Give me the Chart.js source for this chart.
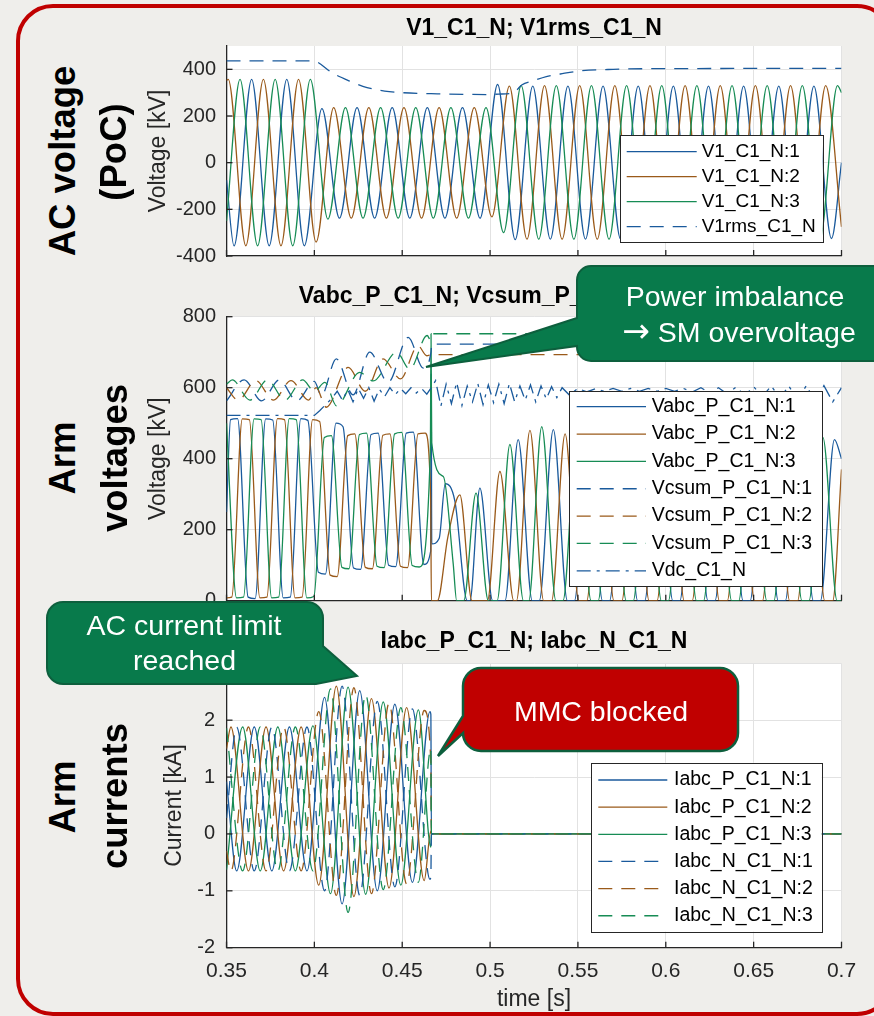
<!DOCTYPE html>
<html>
<head>
<meta charset="utf-8">
<script src="https://cdn.jsdelivr.net/npm/chart.js@4.4.0/dist/chart.umd.min.js"></script>
<style>
  body { margin: 0; background: #efeeeb; }
  #wrap { position: relative; width: 874px; height: 1016px; overflow: hidden; background: #efeeeb;
          font-family: "Liberation Sans", Arial, sans-serif; }
  #frame { position: absolute; left: 16px; top: 4px; width: 878px; height: 1012px; box-sizing: border-box;
           border: 4.5px solid #c00000; border-radius: 37px; }
  canvas { position: absolute; }
  .big { position: absolute; font-weight: bold; font-size: 36.5px; line-height: 1; color: #000;
         white-space: nowrap; transform: translate(-50%, -50%) rotate(-90deg); }
  #mask { position: absolute; left: 130px; top: 263px; width: 96px; height: 8px; background: #efeeeb; }
  svg { position: absolute; left: 0; top: 0; }
</style>
</head>
<body>
<div id="wrap">
  <div id="frame"></div>
  <canvas id="c1" width="744" height="279" style="left:130px;top:0px"></canvas>
  <div id="mask"></div>
  <canvas id="c2" width="744" height="354" style="left:130px;top:270px"></canvas>
  <canvas id="c3" width="744" height="416" style="left:130px;top:600px"></canvas>

  <div class="big" style="left:63px;top:161px">AC voltage</div>
  <div class="big" style="left:114px;top:152px">(PoC)</div>
  <div class="big" style="left:62.5px;top:458px">Arm</div>
  <div class="big" style="left:115px;top:458px">voltages</div>
  <div class="big" style="left:62.5px;top:797px">Arm</div>
  <div class="big" style="left:115px;top:796px">currents</div>

  <svg width="874" height="1016" font-family="Liberation Sans, Arial, sans-serif">
    <path d="M591 266 L890 266 L890 361 L591 361 A14 14 0 0 1 577 347 L577 346 L426 367 L577 318 L577 280 A14 14 0 0 1 591 266 Z"
          fill="#087a4b" stroke="#0d5f3d" stroke-width="2"/>
    <text x="735" y="306" fill="#fff" font-size="28.5" text-anchor="middle">Power imbalance</text>
    <text x="739" y="342" fill="#fff" font-size="28.5" text-anchor="middle"><tspan font-family="DejaVu Sans" font-size="33">→</tspan> SM overvoltage</text>

    <path d="M63 602 L307 602 A16 16 0 0 1 323 618 L323 646 L357 676 L316 684 L63 684 A16 16 0 0 1 47 668 L47 618 A16 16 0 0 1 63 602 Z"
          fill="#087a4b" stroke="#0d5f3d" stroke-width="2"/>
    <text x="184" y="635" fill="#fff" font-size="28.5" text-anchor="middle">AC current limit</text>
    <text x="184.5" y="670" fill="#fff" font-size="28.5" text-anchor="middle">reached</text>

    <path d="M481 668 L720 668 A18 18 0 0 1 738 686 L738 733 A18 18 0 0 1 720 751 L481 751 A18 18 0 0 1 463 733 L438 756 L463 716 L463 686 A18 18 0 0 1 481 668 Z"
          fill="#c00000" stroke="#0d5f3d" stroke-width="2.5"/>
    <text x="601" y="721" fill="#fff" font-size="28.5" text-anchor="middle">MMC blocked</text>
  </svg>
</div>

<script>
// ---- axes ----
const timeTicks = [0.35, 0.4, 0.45, 0.5, 0.55, 0.6, 0.65, 0.7];
const v1Ticks = [-400, -200, 0, 200, 400];
const armTicks = [0, 200, 400, 600, 800];
const curTicks = [-2, -1, 0, 1, 2, 3];

// ---- AC voltage (PoC) ----
const tV1a = [0.35, 0.3543, 0.3643, 0.3743, 0.3843, 0.3943, 0.4043, 0.4143, 0.4243, 0.4343, 0.4443, 0.4543, 0.4643, 0.4743, 0.4843, 0.4943, 0.5043, 0.5143, 0.5243, 0.5343, 0.5443, 0.5543, 0.5643, 0.5743, 0.5843, 0.5943, 0.6043, 0.6143, 0.6243, 0.6343, 0.6443, 0.6543, 0.6643, 0.6743, 0.6843, 0.6943, 0.7];
const vV1a = [-75, -357, 357, -356, 357, -356, 232, -238, 236, -238, 236, -238, 236, -238, 236, -238, 335, -330, 328, -328, 328, -328, 328, -328, 328, -328, 328, -328, 328, -328, 328, -328, 328, -328, 328, -325, 0];
const tV1b = [0.35, 0.351, 0.361, 0.371, 0.381, 0.391, 0.401, 0.411, 0.421, 0.431, 0.441, 0.451, 0.461, 0.471, 0.481, 0.491, 0.501, 0.511, 0.521, 0.531, 0.541, 0.551, 0.561, 0.571, 0.581, 0.591, 0.601, 0.611, 0.621, 0.631, 0.641, 0.651, 0.661, 0.671, 0.681, 0.691, 0.7];
const vV1b = [352, 357, -356, 357, -356, 357, -340, 236, -238, 236, -238, 236, -238, 236, -238, 236, -232, 328, -328, 330, -328, 330, -328, 330, -328, 330, -328, 330, -328, 330, -328, 330, -328, 330, -328, 330, -275];
const tV1c = [0.35, 0.3577, 0.3677, 0.3777, 0.3877, 0.3977, 0.4077, 0.4177, 0.4277, 0.4377, 0.4477, 0.4577, 0.4677, 0.4777, 0.4877, 0.4977, 0.5077, 0.5177, 0.5277, 0.5377, 0.5477, 0.5577, 0.5677, 0.5777, 0.5877, 0.5977, 0.6077, 0.6177, 0.6277, 0.6377, 0.6477, 0.6577, 0.6677, 0.6777, 0.6877, 0.6977, 0.7];
const vV1c = [-250, 357, -356, 357, -356, 357, -242, 236, -238, 236, -238, 236, -238, 236, -238, 236, -300, 330, -328, 330, -328, 330, -328, 330, -328, 330, -328, 330, -328, 330, -328, 330, -328, 330, -328, 330, 300];
const tRms = [0.35, 0.40, 0.402, 0.41, 0.42, 0.43, 0.44, 0.45, 0.47, 0.50, 0.505, 0.512, 0.515, 0.518, 0.525, 0.532, 0.54, 0.551, 0.57, 0.60, 0.70];
const vRms = [436, 436, 430, 386, 350, 322, 307, 300, 295, 292, 294, 297, 310, 333, 352, 369, 380, 393, 400, 403, 404];

// ---- Arm voltages ----
const tA1 = [0.35, 0.3523, 0.3563, 0.3623, 0.3663, 0.3723, 0.3763, 0.3823, 0.3863, 0.3923, 0.3963, 0.4023, 0.4063, 0.4123, 0.4163, 0.4223, 0.4263, 0.4323, 0.4363, 0.4423, 0.4463, 0.4523, 0.4563, 0.4623, 0.4662, 0.4665, 0.4668, 0.471, 0.4745, 0.48, 0.487, 0.4885, 0.4942, 0.5015, 0.5085, 0.516, 0.524, 0.528, 0.536, 0.544, 0.548, 0.556, 0.564, 0.568, 0.576, 0.584, 0.588, 0.596, 0.604, 0.608, 0.616, 0.624, 0.628, 0.636, 0.644, 0.648, 0.656, 0.664, 0.668, 0.676, 0.684, 0.688, 0.696, 0.7];
const vA1 = [250, 510, 513, 10, 6, 512, 509, 8, 10, 513, 508, 80, 75, 500, 490, 92, 88, 468, 472, 100, 96, 472, 475, 102, 140, 640, 160, 175, 330, 280, 0, 0, 317, 0, 0, 454, 0, 0, 482, 0, 0, 470, 0, 0, 468, 0, 0, 470, 0, 0, 466, 0, 0, 470, 0, 0, 468, 0, 0, 465, 0, 0, 454, 400];
const tA2 = [0.35, 0.353, 0.359, 0.363, 0.369, 0.373, 0.379, 0.383, 0.389, 0.393, 0.399, 0.403, 0.409, 0.413, 0.419, 0.423, 0.429, 0.433, 0.439, 0.443, 0.449, 0.453, 0.459, 0.463, 0.4662, 0.4666, 0.47, 0.476, 0.4828, 0.4897, 0.4985, 0.5056, 0.5135, 0.515, 0.5227, 0.5305, 0.535, 0.5427, 0.5505, 0.555, 0.5627, 0.5705, 0.575, 0.5827, 0.5905, 0.595, 0.6027, 0.6105, 0.615, 0.6227, 0.6305, 0.635, 0.6427, 0.6505, 0.655, 0.6627, 0.6705, 0.675, 0.6827, 0.6905, 0.695, 0.7];
const vA2 = [8, 10, 512, 510, 8, 10, 513, 510, 8, 10, 510, 505, 72, 68, 465, 470, 94, 90, 466, 470, 97, 93, 470, 472, 290, 0, 0, 180, 298, 0, 0, 364, 0, 0, 480, 0, 0, 470, 0, 0, 470, 0, 0, 468, 0, 0, 470, 0, 0, 466, 0, 0, 470, 0, 0, 468, 0, 0, 465, 0, 0, 370];
const tA3 = [0.35, 0.3557, 0.3597, 0.3657, 0.3697, 0.3757, 0.3797, 0.3857, 0.3897, 0.3957, 0.3997, 0.4057, 0.4097, 0.4157, 0.4197, 0.4257, 0.4297, 0.4357, 0.4397, 0.4457, 0.4497, 0.4557, 0.4597, 0.466, 0.4664, 0.4668, 0.4734, 0.479, 0.481, 0.485, 0.492, 0.499, 0.504, 0.5113, 0.519, 0.522, 0.5294, 0.5375, 0.5415, 0.5494, 0.5575, 0.5615, 0.5694, 0.5775, 0.5815, 0.5894, 0.5975, 0.6015, 0.6094, 0.6175, 0.6215, 0.6294, 0.6375, 0.6415, 0.6494, 0.6575, 0.6615, 0.6694, 0.6775, 0.6815, 0.6894, 0.6975, 0.7];
const vA3 = [500, 8, 10, 512, 510, 8, 10, 513, 510, 8, 12, 460, 465, 94, 90, 468, 472, 97, 93, 470, 474, 99, 95, 420, 752, 445, 350, 105, 0, 0, 303, 0, 0, 440, 0, 0, 490, 0, 0, 475, 0, 0, 470, 0, 0, 468, 0, 0, 470, 0, 0, 466, 0, 0, 470, 0, 0, 468, 0, 0, 460, 0, 0];
const tC1 = [0.35, 0.36, 0.37, 0.38, 0.39, 0.40, 0.404, 0.4125, 0.422, 0.4315, 0.442, 0.4534, 0.462, 0.4664, 0.4668, 0.7];
const vC1 = [563, 622, 563, 622, 563, 618, 578, 681, 580, 700, 615, 742, 655, 700, 723, 723];
const tC2 = [0.35, 0.3567, 0.3667, 0.3767, 0.3867, 0.3967, 0.401, 0.4068, 0.4192, 0.429, 0.4391, 0.449, 0.459, 0.464, 0.4668, 0.7];
const vC2 = [600, 565, 620, 565, 620, 565, 600, 545, 657, 590, 681, 625, 718, 690, 693, 693];
const tC3 = [0.35, 0.3533, 0.3633, 0.3733, 0.3833, 0.3933, 0.40, 0.406, 0.4126, 0.4258, 0.4335, 0.4468, 0.4543, 0.4642, 0.466, 0.4668, 0.7];
const vC3 = [610, 622, 565, 622, 565, 622, 590, 615, 549, 643, 619, 700, 652, 747, 735, 752, 752];
const tDC = [0.35, 0.40, 0.403, 0.406, 0.41, 0.413, 0.416, 0.419, 0.422, 0.425, 0.428, 0.431, 0.434, 0.437, 0.44, 0.443, 0.446, 0.449, 0.452, 0.455, 0.458, 0.461, 0.464, 0.4665, 0.469, 0.472, 0.475, 0.478, 0.481, 0.484, 0.487, 0.49, 0.493, 0.496, 0.499, 0.502, 0.505, 0.508, 0.511, 0.514, 0.517, 0.52, 0.523, 0.526, 0.529, 0.532, 0.535, 0.538, 0.541, 0.545, 0.55, 0.555, 0.56, 0.565, 0.57, 0.575, 0.58, 0.585, 0.59, 0.595, 0.6, 0.605, 0.61, 0.615, 0.62, 0.625, 0.63, 0.635, 0.64, 0.645, 0.65, 0.655, 0.66, 0.665, 0.67, 0.675, 0.68, 0.685, 0.69, 0.695, 0.7];
const vDC = [522, 522, 535, 550, 570, 590, 565, 595, 560, 598, 570, 600, 562, 596, 575, 600, 580, 598, 583, 600, 585, 598, 582, 600, 620, 548, 610, 555, 615, 550, 605, 560, 612, 552, 608, 558, 610, 555, 612, 560, 605, 565, 608, 560, 605, 568, 603, 572, 600, 580, 598, 588, 597, 590, 598, 590, 598, 590, 598, 590, 598, 590, 598, 588, 600, 585, 600, 582, 602, 578, 603, 575, 605, 570, 605, 565, 606, 562, 606, 560, 600];

// ---- Arm currents ----
const tP1 = [0.35, 0.3558, 0.3658, 0.3758, 0.3858, 0.3958, 0.4058, 0.4158, 0.4258, 0.4358, 0.4458, 0.4558, 0.4658, 0.4663, 0.4666, 0.7];
const vP1 = [0.92, -0.65, 1.88, -0.65, 1.88, -0.65, 2.4, -1.23, 2.52, -1.0, 2.28, -0.85, 2.15, 2.1, 0, 0];
const tP2 = [0.35, 0.3525, 0.3625, 0.3725, 0.3825, 0.3925, 0.4025, 0.4125, 0.4225, 0.4325, 0.4425, 0.4525, 0.4625, 0.4663, 0.4666, 0.7];
const vP2 = [1.5, 1.88, -0.65, 1.88, -0.65, 1.88, -0.9, 2.6, -1.1, 2.38, -0.95, 2.22, -0.82, 0.05, 0, 0];
const tP3 = [0.35, 0.3592, 0.3692, 0.3792, 0.3892, 0.3992, 0.4092, 0.4192, 0.4292, 0.4392, 0.4492, 0.4592, 0.4663, 0.4666, 0.7];
const vP3 = [-0.63, 1.88, -0.65, 1.88, -0.65, 1.9, -1.05, 2.58, -1.06, 2.32, -0.9, 2.18, -0.23, 0, 0];
const tN1 = [0.35, 0.3558, 0.3658, 0.3758, 0.3858, 0.3958, 0.4058, 0.4158, 0.4258, 0.4358, 0.4458, 0.4558, 0.4658, 0.4663, 0.4666, 0.7];
const vN1 = [0.28, 1.88, -0.65, 1.88, -0.65, 1.88, -1.0, 2.6, -1.08, 2.33, -0.93, 2.2, -0.8, -0.75, 0, 0];
const tN2 = [0.35, 0.3525, 0.3625, 0.3725, 0.3825, 0.3925, 0.4025, 0.4125, 0.4225, 0.4325, 0.4425, 0.4525, 0.4625, 0.4663, 0.4666, 0.7];
const vN2 = [-0.3, -0.65, 1.88, -0.65, 1.88, -0.65, 2.15, -1.08, 2.57, -1.05, 2.3, -0.88, 2.17, 1.25, 0, 0];
const tN3 = [0.35, 0.3592, 0.3692, 0.3792, 0.3892, 0.3992, 0.4092, 0.4192, 0.4292, 0.4392, 0.4492, 0.4592, 0.4663, 0.4666, 0.7];
const vN3 = [1.86, -0.65, 1.88, -0.65, 1.88, -0.65, 2.55, -1.38, 2.45, -0.98, 2.22, -0.85, 1.5, 0, 0];

const BLUE = '#1a5a9c', BROWN = '#9a5a1a', GREEN = '#178c55';
const DASH = [14, 9], DASHDOT = [14, 6, 3, 6];
const FONT = '"Liberation Sans", Arial, sans-serif';
Chart.defaults.font.family = FONT;

const pts = (t, v) => t.map((x, i) => ({ x: x, y: v[i] }));

function series(label, t, v, color, dash, extra) {
    return Object.assign({
        label: label, data: pts(t, v), borderColor: color, borderWidth: 1.3,
        borderDash: dash || [], pointRadius: 0, fill: false
    }, extra || {});
}

// white axes background, inward ticks and the boxed legend
const matlabLook = {
    id: 'matlabLook',
    beforeDraw(chart) {
        const a = chart.chartArea, ctx = chart.ctx;
        ctx.save();
        ctx.fillStyle = '#ffffff';
        ctx.fillRect(a.left, a.top, a.right - a.left, a.bottom - a.top);
        ctx.restore();
    },
    afterDatasetsDraw(chart, args, opts) {
        const a = chart.chartArea, ctx = chart.ctx;
        const sx = chart.scales.x, sy = chart.scales.y;
        ctx.save();
        ctx.strokeStyle = '#262626';
        ctx.lineWidth = 1.3;
        sx.ticks.forEach(t => {
            const px = sx.getPixelForValue(t.value);
            ctx.beginPath(); ctx.moveTo(px, a.bottom); ctx.lineTo(px, a.bottom - 6); ctx.stroke();
        });
        sy.ticks.forEach(t => {
            const py = sy.getPixelForValue(t.value);
            ctx.beginPath(); ctx.moveTo(a.left, py); ctx.lineTo(a.left + 6, py); ctx.stroke();
        });

        const lg = opts.legend;
        if (lg) {
            const ox = lg.ox, oy = lg.oy;
            ctx.fillStyle = '#ffffff';
            ctx.fillRect(lg.x - ox, lg.y - oy, lg.w, lg.h);
            ctx.strokeStyle = '#262626';
            ctx.lineWidth = 1;
            ctx.strokeRect(Math.round(lg.x - ox) + 0.5, Math.round(lg.y - oy) + 0.5, Math.round(lg.w), Math.round(lg.h));
            ctx.font = lg.size + 'px ' + FONT;
            ctx.textBaseline = 'middle';
            ctx.textAlign = 'left';
            chart.data.datasets.forEach((ds, i) => {
                const yy = lg.row0 + i * lg.step - oy;
                ctx.strokeStyle = ds.borderColor;
                ctx.lineWidth = ds.borderWidth;
                ctx.setLineDash(ds.borderDash || []);
                ctx.beginPath(); ctx.moveTo(lg.l0 - ox, yy); ctx.lineTo(lg.l1 - ox, yy); ctx.stroke();
                ctx.setLineDash([]);
                ctx.fillStyle = '#000';
                ctx.fillText(ds.label, lg.tx - ox, yy);
            });
        }
        ctx.restore();
    }
};

function makeChart(id, c) {
    c.datasets.forEach((ds, i) => { ds.order = -i; });
    return new Chart(document.getElementById(id), {
        type: 'line',
        data: { datasets: c.datasets },
        options: {
            responsive: false,
            animation: false,
            events: [],
            layout: { padding: c.padding },
            elements: { point: { radius: 0 }, line: { cubicInterpolationMode: 'monotone' } },
            plugins: {
                legend: { display: false },
                tooltip: { enabled: false },
                title: {
                    display: true, text: c.title, fullSize: false, color: '#000',
                    font: { size: 23, weight: 'bold' }, padding: { top: 0, bottom: c.titlePad }
                },
                matlabLook: { legend: c.legend }
            },
            scales: {
                x: {
                    type: 'linear', min: 0.35, max: 0.7,
                    afterBuildTicks: s => { s.ticks = timeTicks.map(v => ({ value: v })); },
                    afterFit: s => { s.height = c.xHeight; },
                    grid: { color: '#e2e2e2', drawTicks: false },
                    border: { color: '#262626', width: 1.3 },
                    ticks: {
                        display: c.showX, padding: 10.5, maxRotation: 0, color: '#262626',
                        font: { size: 21 }, callback: v => String(Math.round(v * 100) / 100)
                    },
                    title: { display: c.showX, text: 'time [s]', color: '#262626', font: { size: 23 }, padding: { top: 0, bottom: 0 } }
                },
                y: {
                    min: c.yMin, max: c.yMax,
                    afterBuildTicks: s => { s.ticks = c.yTicks.map(v => ({ value: v })); },
                    afterFit: s => { s.width = 96.5; },
                    grid: { color: '#e2e2e2', drawTicks: false },
                    border: { color: '#262626', width: 1.3 },
                    ticks: { padding: c.yPad, color: '#262626', font: { size: 20 } },
                    title: { display: true, text: c.yTitle, color: '#262626', font: { size: 23 }, padding: { top: c.yTitlePad, bottom: 0 } }
                }
            }
        },
        plugins: [matlabLook]
    });
}

makeChart('c1', {
    title: 'V1_C1_N; V1rms_C1_N', titlePad: 3.2,
    padding: { left: 0, right: 32.5, top: 15.2, bottom: 23 },
    xHeight: 0, showX: false,
    yMin: -400, yMax: 500, yTicks: v1Ticks, yPad: 10.5, yTitle: 'Voltage [kV]', yTitlePad: 15,
    legend: { ox: 130, oy: 0, x: 620, y: 135, w: 202.7, h: 107.3, row0: 151.7, step: 25, l0: 626.7, l1: 696.7, tx: 701.7, size: 19 },
    datasets: [
        series('V1_C1_N:1', tV1a, vV1a, BLUE),
        series('V1_C1_N:2', tV1b, vV1b, BROWN),
        series('V1_C1_N:3', tV1c, vV1c, GREEN),
        series('V1rms_C1_N', tRms, vRms, BLUE, DASH)
    ]
});

makeChart('c2', {
    title: 'Vabc_P_C1_N; Vcsum_P_C1_N; Vdc_C1_N', titlePad: 5.9,
    padding: { left: 0, right: 32.5, top: 13.2, bottom: 23.3 },
    xHeight: 0, showX: false,
    yMin: 0, yMax: 800, yTicks: armTicks, yPad: 10.5, yTitle: 'Voltage [kV]', yTitlePad: 15,
    legend: { ox: 130, oy: 270, x: 569.3, y: 391, w: 253.4, h: 195, row0: 406.7, step: 27.35, l0: 576.7, l1: 646, tx: 651.7, size: 19.5 },
    datasets: [
        series('Vabc_P_C1_N:1', tA1, vA1, BLUE),
        series('Vabc_P_C1_N:2', tA2, vA2, BROWN),
        series('Vabc_P_C1_N:3', tA3, vA3, GREEN),
        series('Vcsum_P_C1_N:1', tC1, vC1, BLUE, DASH),
        series('Vcsum_P_C1_N:2', tC2, vC2, BROWN, DASH),
        series('Vcsum_P_C1_N:3', tC3, vC3, GREEN, DASH),
        series('Vdc_C1_N', tDC, vDC, BLUE, DASHDOT, { cubicInterpolationMode: 'default', tension: 0 })
    ]
});

makeChart('c3', {
    title: 'Iabc_P_C1_N; Iabc_N_C1_N', titlePad: 7.8,
    padding: { left: 0, right: 32.5, top: 27.9, bottom: 2.2 },
    xHeight: 66.1, showX: true,
    yMin: -2, yMax: 3, yTicks: curTicks, yPad: 11.5, yTitle: 'Current [kA]', yTitlePad: 31.2,
    legend: { ox: 130, oy: 600, x: 591, y: 762.7, w: 230.7, h: 169, row0: 780, step: 27.15, l0: 598.3, l1: 667.3, tx: 674, size: 19.5 },
    datasets: [
        series('Iabc_P_C1_N:1', tP1, vP1, BLUE),
        series('Iabc_P_C1_N:2', tP2, vP2, BROWN),
        series('Iabc_P_C1_N:3', tP3, vP3, GREEN),
        series('Iabc_N_C1_N:1', tN1, vN1, BLUE, DASH),
        series('Iabc_N_C1_N:2', tN2, vN2, BROWN, DASH),
        series('Iabc_N_C1_N:3', tN3, vN3, GREEN, DASH)
    ]
});
</script>
</body>
</html>
